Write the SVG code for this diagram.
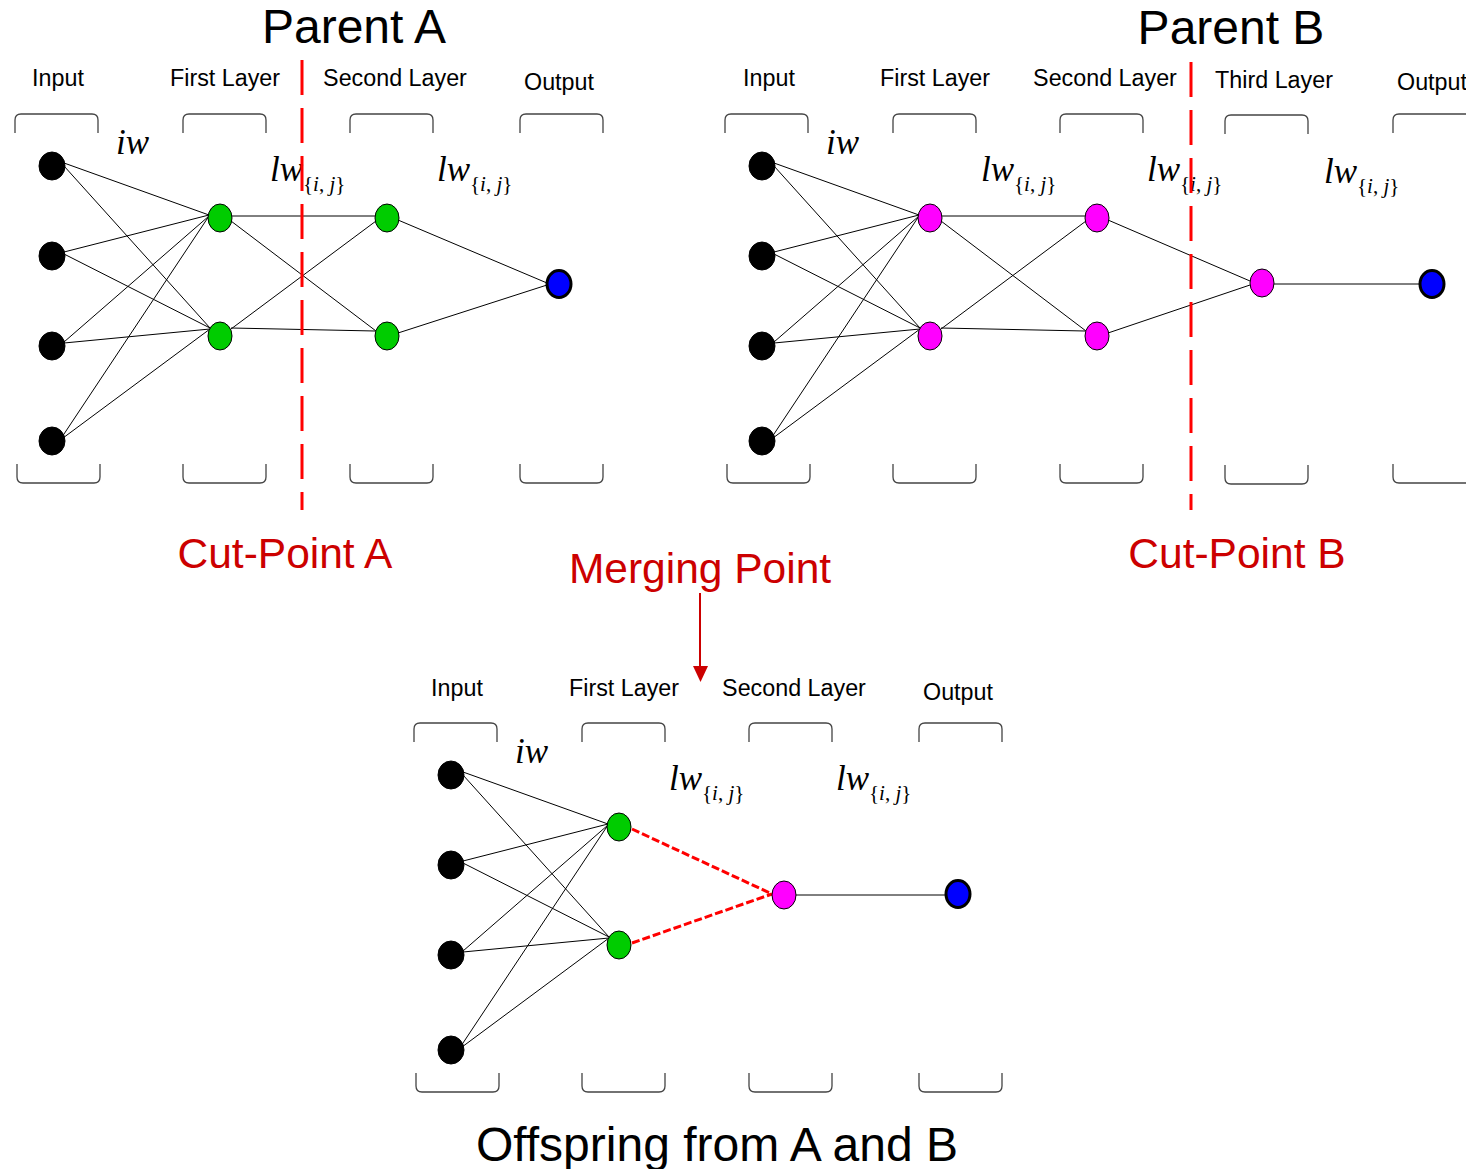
<svg xmlns="http://www.w3.org/2000/svg" xmlns:xlink="http://www.w3.org/1999/xlink" width="1466" height="1169" viewBox="0 0 1466 1169">
  <style>
    .title { font-family: "Liberation Sans", Arial, sans-serif; font-size: 48px; fill: #000; text-anchor: middle; }
    .lab { font-family: "Liberation Sans", Arial, sans-serif; font-size: 23.3px; fill: #000; text-anchor: middle; }
    .red { font-family: "Liberation Sans", Arial, sans-serif; font-size: 42.5px; fill: #cc0000; text-anchor: middle; }
    .m { font-family: "Liberation Serif", "Times New Roman", serif; font-size: 35px; font-style: italic; fill: #000; }
    .sub { font-family: "Liberation Serif", "Times New Roman", serif; font-size: 21px; fill: #000; }
    .sub .it { font-style: italic; }
    .br { fill: none; stroke: #444; stroke-width: 1.3; }
    .e { stroke: #000; stroke-width: 1; fill: none; }
    .cut { stroke: #ff0000; stroke-width: 3; stroke-dasharray: 35 13; fill: none; }
    .merge { stroke: #ff0000; stroke-width: 3; stroke-dasharray: 8 3; fill: none; }
    .in { fill: #000; stroke: #000; stroke-width: 1; }
    .g { fill: #00cc00; stroke: #000; stroke-width: 1; }
    .p { fill: #ff00ff; stroke: #000; stroke-width: 1; }
    .o { fill: #0000ff; stroke: #000; stroke-width: 3; }
  </style>
  <defs>
    <path id="bt" d="M0,19 V6 Q0,0 6,0 H77 Q83,0 83,6 V19"/>
    <path id="bb" d="M0,0 V13 Q0,19 6,19 H77 Q83,19 83,13 V0"/>
  </defs>
  <rect width="1466" height="1169" fill="#fff"/>

  <!-- titles and captions -->
  <text class="title" x="354" y="43">Parent A</text>
  <text class="title" x="1231" y="44">Parent B</text>
  <text class="red" x="285" y="568">Cut-Point A</text>
  <text class="red" x="1237" y="568">Cut-Point B</text>
  <text class="red" x="700" y="583">Merging Point</text>
  <text class="title" x="717" y="1161">Offspring from A and B</text>

  <!-- layer labels -->
  <g id="labels">
    <text class="lab" x="58" y="86">Input</text>
    <text class="lab" x="225" y="86">First Layer</text>
    <text class="lab" x="395" y="86">Second Layer</text>
    <text class="lab" x="559" y="90">Output</text>
    <text class="lab" x="769" y="86">Input</text>
    <text class="lab" x="935" y="86">First Layer</text>
    <text class="lab" x="1105" y="86">Second Layer</text>
    <text class="lab" x="1274" y="88">Third Layer</text>
    <text class="lab" x="1432" y="90">Output</text>
    <text class="lab" x="457" y="696">Input</text>
    <text class="lab" x="624" y="696">First Layer</text>
    <text class="lab" x="794" y="696">Second Layer</text>
    <text class="lab" x="958" y="700">Output</text>
  </g>

  <!-- layer brackets -->
  <g id="brackets" class="br">
    <use xlink:href="#bt" x="15" y="114"/>
    <use xlink:href="#bt" x="183" y="114"/>
    <use xlink:href="#bt" x="350" y="114"/>
    <use xlink:href="#bt" x="520" y="114"/>
    <use xlink:href="#bb" x="17" y="464"/>
    <use xlink:href="#bb" x="183" y="464"/>
    <use xlink:href="#bb" x="350" y="464"/>
    <use xlink:href="#bb" x="520" y="464"/>

    <use xlink:href="#bt" x="725" y="114"/>
    <use xlink:href="#bt" x="893" y="114"/>
    <use xlink:href="#bt" x="1060" y="114"/>
    <use xlink:href="#bt" x="1225" y="115"/>
    <use xlink:href="#bt" x="1393" y="114"/>
    <use xlink:href="#bb" x="727" y="464"/>
    <use xlink:href="#bb" x="893" y="464"/>
    <use xlink:href="#bb" x="1060" y="464"/>
    <use xlink:href="#bb" x="1225" y="465"/>
    <use xlink:href="#bb" x="1393" y="464"/>

    <use xlink:href="#bt" x="414" y="723"/>
    <use xlink:href="#bt" x="582" y="723"/>
    <use xlink:href="#bt" x="749" y="723"/>
    <use xlink:href="#bt" x="919" y="723"/>
    <use xlink:href="#bb" x="416" y="1073"/>
    <use xlink:href="#bb" x="582" y="1073"/>
    <use xlink:href="#bb" x="749" y="1073"/>
    <use xlink:href="#bb" x="919" y="1073"/>
  </g>

  <!-- weight labels -->
  <g id="weights">
    <text class="m" x="116" y="154">iw</text>
    <text class="m" x="270" y="181">lw</text>
    <text class="sub" x="303" y="191">{<tspan class="it">i</tspan>, <tspan class="it">j</tspan>}</text>
    <text class="m" x="437" y="181">lw</text>
    <text class="sub" x="470" y="191">{<tspan class="it">i</tspan>, <tspan class="it">j</tspan>}</text>

    <text class="m" x="826" y="154">iw</text>
    <text class="m" x="981" y="181">lw</text>
    <text class="sub" x="1014" y="191">{<tspan class="it">i</tspan>, <tspan class="it">j</tspan>}</text>
    <text class="m" x="1147" y="181">lw</text>
    <text class="sub" x="1180" y="191">{<tspan class="it">i</tspan>, <tspan class="it">j</tspan>}</text>
    <text class="m" x="1324" y="183">lw</text>
    <text class="sub" x="1357" y="193">{<tspan class="it">i</tspan>, <tspan class="it">j</tspan>}</text>

    <text class="m" x="515" y="763">iw</text>
    <text class="m" x="669" y="790">lw</text>
    <text class="sub" x="702" y="800">{<tspan class="it">i</tspan>, <tspan class="it">j</tspan>}</text>
    <text class="m" x="836" y="790">lw</text>
    <text class="sub" x="869" y="800">{<tspan class="it">i</tspan>, <tspan class="it">j</tspan>}</text>
  </g>

  <!-- connectors -->
  <g id="connectors">
    <!-- Parent A -->
    <g id="edges-a" class="e">
      <path d="M64,163 L209,215 M64,166 L210,328 M64,252 L209,215 M64,254 L210,328 M64,342 L209,216 M64,343 L210,329 M62,437 L209,216 M63,438 L210,329"/>
      <path d="M232,216 L375,216 M231,221 L376,331 M231,329 L376,221 M231,328 L375,331"/>
      <path d="M398,220 L547,283 M398,333 L547,285"/>
    </g>
    <!-- Parent B -->
    <g id="edges-b" class="e">
      <g transform="translate(710,0)">
        <path d="M64,163 L209,215 M64,166 L210,328 M64,252 L209,215 M64,254 L210,328 M64,342 L209,216 M64,343 L210,329 M62,437 L209,216 M63,438 L210,329"/>
        <path d="M232,216 L375,216 M231,221 L376,331 M231,329 L376,221 M231,328 L375,331"/>
      </g>
      <path d="M1108,220 L1250,281 M1108,333 L1250,285 M1274,284 L1420,284"/>
    </g>
    <!-- Offspring -->
    <g id="edges-c" class="e">
      <g transform="translate(399,609)">
        <path d="M64,163 L209,215 M64,166 L210,328 M64,252 L209,215 M64,254 L210,328 M64,342 L209,216 M64,343 L210,329 M62,437 L209,216 M63,438 L210,329"/>
      </g>
      <path d="M796,895 L946,895"/>
    </g>
    <path id="merge-edges" class="merge" d="M632,829 L772,894 M632,943 L772,894"/>
    <!-- cut lines -->
    <line id="cut-a" class="cut" x1="302" y1="60" x2="302" y2="510"/>
    <line id="cut-b" class="cut" x1="1191" y1="62" x2="1191" y2="510"/>
    <!-- merging arrow -->
    <g id="merge-arrow">
      <line x1="700" y1="593" x2="700" y2="668" stroke="#cc0000" stroke-width="2"/>
      <polygon points="693,666 708,666 700.5,682" fill="#cc0000"/>
    </g>
  </g>

  <!-- Parent A nodes -->
  <g id="a-in1"><ellipse class="in" cx="52" cy="166" rx="13" ry="14"/></g>
  <g id="a-in2"><ellipse class="in" cx="52" cy="256" rx="13" ry="14"/></g>
  <g id="a-in3"><ellipse class="in" cx="52" cy="346" rx="13" ry="14"/></g>
  <g id="a-in4"><ellipse class="in" cx="52" cy="441" rx="13" ry="14"/></g>
  <g id="a-h1a"><ellipse class="g" cx="220" cy="218" rx="12" ry="14"/></g>
  <g id="a-h1b"><ellipse class="g" cx="220" cy="336" rx="12" ry="14"/></g>
  <g id="a-h2a"><ellipse class="g" cx="387" cy="218" rx="12" ry="14"/></g>
  <g id="a-h2b"><ellipse class="g" cx="387" cy="336" rx="12" ry="14"/></g>
  <g id="a-out"><ellipse class="o" cx="559" cy="284" rx="12" ry="13.5"/></g>

  <!-- Parent B nodes -->
  <g id="b-in1"><ellipse class="in" cx="762" cy="166" rx="13" ry="14"/></g>
  <g id="b-in2"><ellipse class="in" cx="762" cy="256" rx="13" ry="14"/></g>
  <g id="b-in3"><ellipse class="in" cx="762" cy="346" rx="13" ry="14"/></g>
  <g id="b-in4"><ellipse class="in" cx="762" cy="441" rx="13" ry="14"/></g>
  <g id="b-h1a"><ellipse class="p" cx="930" cy="218" rx="12" ry="14"/></g>
  <g id="b-h1b"><ellipse class="p" cx="930" cy="336" rx="12" ry="14"/></g>
  <g id="b-h2a"><ellipse class="p" cx="1097" cy="218" rx="12" ry="14"/></g>
  <g id="b-h2b"><ellipse class="p" cx="1097" cy="336" rx="12" ry="14"/></g>
  <g id="b-h3"><ellipse class="p" cx="1262" cy="283" rx="12" ry="14"/></g>
  <g id="b-out"><ellipse class="o" cx="1432" cy="284" rx="12" ry="13.5"/></g>

  <!-- Offspring nodes -->
  <g id="c-in1"><ellipse class="in" cx="451" cy="775" rx="13" ry="14"/></g>
  <g id="c-in2"><ellipse class="in" cx="451" cy="865" rx="13" ry="14"/></g>
  <g id="c-in3"><ellipse class="in" cx="451" cy="955" rx="13" ry="14"/></g>
  <g id="c-in4"><ellipse class="in" cx="451" cy="1050" rx="13" ry="14"/></g>
  <g id="c-h1a"><ellipse class="g" cx="619" cy="827" rx="12" ry="14"/></g>
  <g id="c-h1b"><ellipse class="g" cx="619" cy="945" rx="12" ry="14"/></g>
  <g id="c-h2"><ellipse class="p" cx="784" cy="895" rx="12" ry="14"/></g>
  <g id="c-out"><ellipse class="o" cx="958" cy="894" rx="12" ry="13.5"/></g>
</svg>
